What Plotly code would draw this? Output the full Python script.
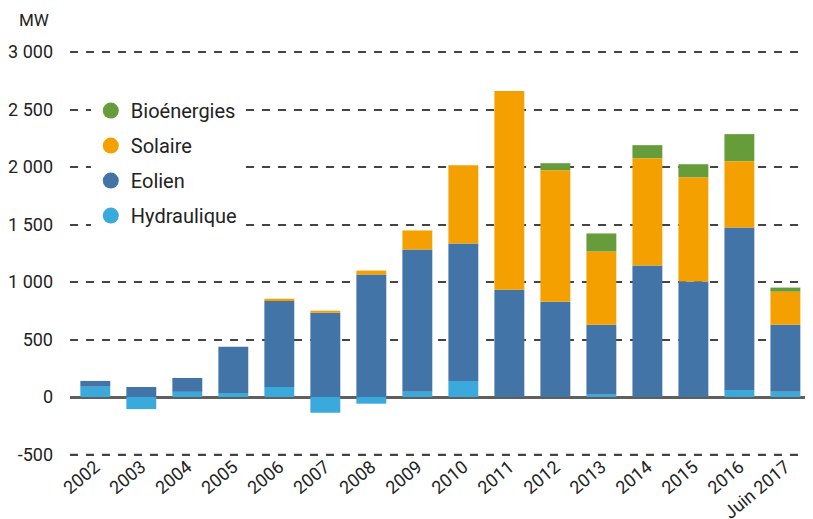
import plotly.graph_objects as go

# Puissance raccordée par an et par filière (MW)
annees = ["2002", "2003", "2004", "2005", "2006", "2007", "2008", "2009",
          "2010", "2011", "2012", "2013", "2014", "2015", "2016", "Juin 2017"]
hydraulique = [90, -105, 45, 35, 88, -137, -58, 45, 140, 0, 0, 25, 0, 0, 60, 45]
eolien = [50, 87, 121, 402, 750, 733, 1065, 1238, 1196, 934, 829, 604, 1144, 1004, 1415, 584]
solaire = [0, 0, 0, 0, 17, 18, 35, 166, 681, 1729, 1144, 637, 934, 908, 577, 288]
bioenergies = [0, 0, 0, 0, 0, 0, 0, 0, 0, 0, 61, 157, 113, 113, 235, 35]

tick_vals = [-500, 0, 500, 1000, 1500, 2000, 2500, 3000]
tick_text = ["-500", "0", "500", "1 000", "1 500", "2 000", "2 500", "3 000"]

COULEURS = {
    "Hydraulique": "#3aa9dc",
    "Eolien": "#4274a7",
    "Solaire": "#f4a000",
    "Bioénergies": "#679c3b",
}
FONT = "Roboto, Arial, sans-serif"
GRILLE = {"color": "#444444", "width": 1.5, "dash": "8px,8px"}

fig = go.Figure()
for nom, valeurs in [("Hydraulique", hydraulique), ("Eolien", eolien),
                     ("Solaire", solaire), ("Bioénergies", bioenergies)]:
    fig.add_trace(go.Bar(x=annees, y=valeurs, name=nom, marker_color=COULEURS[nom],
                         marker_line_width=0, showlegend=False))

# légende à pastilles rondes
for nom in ["Bioénergies", "Solaire", "Eolien", "Hydraulique"]:
    fig.add_trace(go.Scatter(x=[None], y=[None], mode="markers", name=nom, legendgroup=nom,
                             marker={"color": COULEURS[nom], "size": 17, "symbol": "circle"}))

fig.add_annotation(text="MW", xref="paper", yref="paper", x=-0.0485, y=1.0, yshift=31,
                   showarrow=False, xanchor="center", yanchor="middle",
                   font={"size": 17, "color": "#222222", "family": FONT})

# ligne de grille du bas, tracée par-dessus
fig.add_hline(y=tick_vals[0], line=GRILLE, layer="above")

# la page ajoute 8 px de marge autour de la figure : on la réduit d'autant
fig.update_layout(
    width=805, height=511,
    margin={"l": 62, "r": 0, "t": 43, "b": 53},
    barmode="relative", bargap=0.35,
    plot_bgcolor="white", paper_bgcolor="white",
    font={"family": FONT, "size": 18, "color": "#222222"},
    legend={"x": 0.028, "y": 0.9035, "xanchor": "left", "yanchor": "top",
            "font": {"size": 20, "color": "#222222"}, "tracegroupgap": 6,
            "bgcolor": "white"},
)
fig.update_xaxes(type="category", range=[-0.55, 15.6], tickangle=-40, showgrid=False,
                 ticks="", showline=False, tickfont={"size": 18}, ticklabelstandoff=-14,
                 automargin=False)
fig.update_yaxes(range=[-600, 3010], tickvals=tick_vals, ticktext=tick_text,
                 showgrid=True, gridcolor=GRILLE["color"], gridwidth=GRILLE["width"],
                 griddash=GRILLE["dash"],
                 zeroline=True, zerolinecolor="#5f5f5f", zerolinewidth=3,
                 ticks="", ticklabelstandoff=16, showline=False, automargin=False)

fig.write_html("out.html")
